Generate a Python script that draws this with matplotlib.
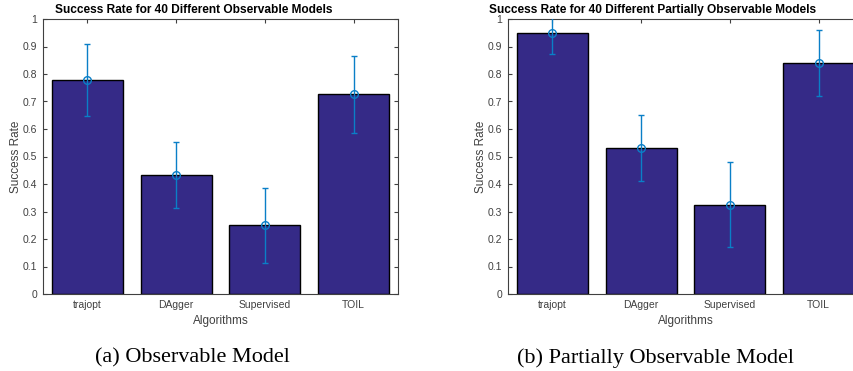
import numpy as np
import matplotlib.pyplot as plt

algorithms = ['trajopt', 'DAgger', 'Supervised', 'TOIL']

obs_rate = [0.777, 0.431, 0.250, 0.726]
obs_err = [0.131, 0.120, 0.136, 0.141]

pobs_rate = [0.948, 0.531, 0.325, 0.840]
pobs_err = [0.075, 0.121, 0.154, 0.120]

titles = ['Success Rate for 40 Different Observable Models',
          'Success Rate for 40 Different Partially Observable Models']
captions = ['(a) Observable Model', '(b) Partially Observable Model']

W, H = 854, 371
bar_color = '#352a87'
err_color = '#0a7fc7'
axis_color = '#404040'

plt.rcParams['font.family'] = ['Liberation Sans', 'DejaVu Sans']

fig = plt.figure(figsize=(W / 100, H / 100), dpi=100)


def px_axes(x0, y0, x1, y1):
    return fig.add_axes([x0 / W, 1 - y1 / H, (x1 - x0) / W, (y1 - y0) / H])


panels = [
    (px_axes(43, 19, 398, 294), obs_rate, obs_err, 194, 192),
    (px_axes(508, 19, 863, 294), pobs_rate, pobs_err, 653, 656),
]

x = np.arange(1, len(algorithms) + 1)
for i, (ax, rate, err, title_x, cap_x) in enumerate(panels):
    ax.bar(x, rate, width=0.8, color=bar_color, edgecolor='black', linewidth=1.0, zorder=2)
    ax.errorbar(x, rate, yerr=err, fmt='o', color=err_color, ecolor=err_color,
                markerfacecolor='none', markersize=5.5, markeredgewidth=1.0,
                elinewidth=1.0, capsize=2.5, capthick=1.0, zorder=3, clip_on=True)
    ax.set_xlim(0.5, 4.5)
    ax.set_ylim(0, 1)
    ax.set_yticks(np.arange(0, 1.01, 0.1))
    ax.set_yticklabels(['0'] + ['%.1f' % v for v in np.arange(0.1, 0.95, 0.1)] + ['1'])
    ax.set_xticks(x)
    ax.set_xticklabels(algorithms)
    ax.tick_params(direction='in', length=3, width=0.8, colors=axis_color,
                   labelsize=7.5, top=True, right=True, pad=4)
    for s in ax.spines.values():
        s.set_color(axis_color)
        s.set_linewidth(0.8)
    ax.set_xlabel('Algorithms', fontsize=8.5, color=axis_color, labelpad=4)
    ax.set_ylabel('Success Rate', fontsize=8.5, color=axis_color, labelpad=1)
    fig.text(title_x / W, 1 - 10 / H, titles[i], ha='center', va='center',
             fontsize=8.6, fontweight='bold')
    fig.text(cap_x / W, 1 - 358 / H, captions[i], ha='center', va='center',
             fontsize=16, family=['Liberation Serif', 'DejaVu Serif'])

fig.savefig('out.png', dpi=100)
